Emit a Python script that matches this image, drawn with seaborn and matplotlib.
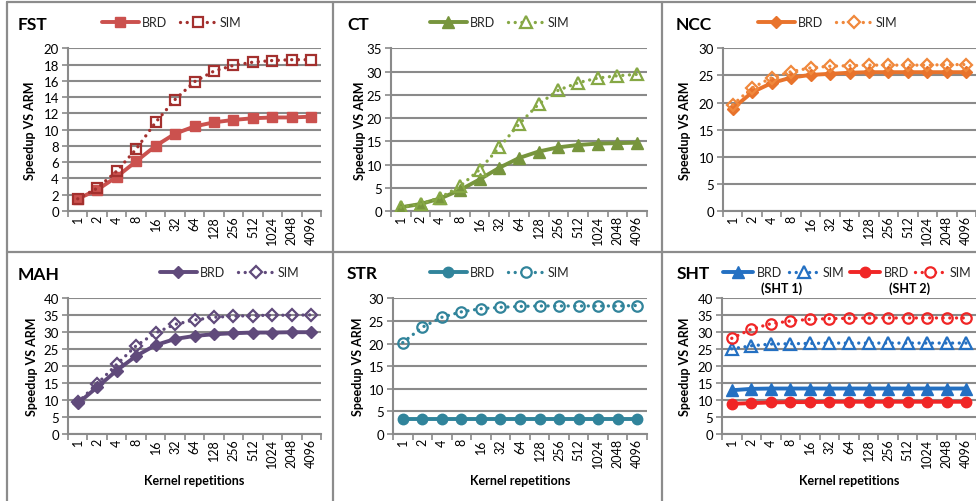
import numpy as np
import matplotlib
matplotlib.use("Agg")
import matplotlib.pyplot as plt
from matplotlib.lines import Line2D
import seaborn as sns

# ---- data -------------------------------------------------------------
reps = ["1", "2", "4", "8", "16", "32", "64", "128", "256", "512", "1024", "2048", "4096"]

fst_brd = [1.5, 2.6, 4.2, 6.1, 8.0, 9.5, 10.4, 10.9, 11.2, 11.4, 11.5, 11.5, 11.6]
fst_sim = [1.5, 2.8, 4.9, 7.6, 10.9, 13.7, 15.9, 17.2, 17.9, 18.3, 18.5, 18.6, 18.6]

ct_brd = [0.8, 1.5, 2.7, 4.5, 6.8, 9.3, 11.4, 12.8, 13.7, 14.2, 14.5, 14.6, 14.7]
ct_sim = [0.8, 1.5, 2.9, 5.3, 8.9, 13.7, 18.7, 23.0, 26.0, 27.6, 28.6, 29.1, 29.4]

ncc_brd = [18.9, 21.9, 23.6, 24.6, 25.1, 25.3, 25.5, 25.6, 25.6, 25.6, 25.6, 25.6, 25.6]
ncc_sim = [19.6, 22.7, 24.6, 25.7, 26.4, 26.7, 26.8, 26.9, 26.9, 26.9, 26.9, 27.0, 27.0]

mah_brd = [9.0, 13.8, 18.7, 23.0, 26.2, 28.0, 28.9, 29.4, 29.7, 29.9, 29.9, 30.0, 30.0]
mah_sim = [9.3, 14.8, 20.5, 26.0, 29.8, 32.3, 33.6, 34.4, 34.7, 34.9, 35.0, 35.0, 35.1]

str_brd = [3.4, 3.4, 3.4, 3.4, 3.4, 3.4, 3.4, 3.4, 3.4, 3.4, 3.4, 3.4, 3.4]
str_sim = [20.2, 23.6, 25.8, 27.0, 27.7, 28.0, 28.2, 28.3, 28.3, 28.3, 28.3, 28.3, 28.4]

sht1_brd = [12.9, 13.3, 13.4, 13.4, 13.4, 13.4, 13.4, 13.4, 13.4, 13.4, 13.4, 13.4, 13.4]
sht1_sim = [25.1, 26.0, 26.5, 26.6, 26.7, 26.8, 26.8, 26.8, 26.8, 26.8, 26.8, 26.8, 26.8]
sht2_brd = [8.9, 9.1, 9.3, 9.4, 9.4, 9.5, 9.5, 9.5, 9.5, 9.5, 9.5, 9.5, 9.5]
sht2_sim = [28.2, 30.9, 32.5, 33.3, 33.8, 34.0, 34.1, 34.2, 34.2, 34.2, 34.2, 34.2, 34.2]

# ---- style ------------------------------------------------------------
W, H = 976, 502
sns.set_theme(style="white")
plt.rcParams["font.family"] = ["Lato", "DejaVu Sans"]
GRID = "#8a8a8a"
TXT = "#000000"

fig = plt.figure(figsize=(W / 100, H / 100), dpi=100)
fig.patch.set_facecolor("white")


def box(l, t, r, b):
    return [l / W, 1 - b / H, (r - l) / W, (b - t) / H]


DOT = (0, (0.01, 2.0))

panels = [
    dict(title="FST", ax=(68, 49, 321, 212), ymax=20, step=2, tpos=(18, 25), leg=(172, 23), ylab_x=30,
         series=[("BRD", fst_brd, "#CB514E", "s", 7, True),
                 ("SIM", fst_sim, "#A3302E", "s", 7, False)], xlabel=False),
    dict(title="CT", ax=(391, 49, 647, 212), ymax=35, step=5, tpos=(347, 25), leg=(500, 23), ylab_x=360,
         series=[("BRD", ct_brd, "#77953D", "^", 8, True),
                 ("SIM", ct_sim, "#86A845", "^", 8, False)], xlabel=False),
    dict(title="NCC", ax=(723, 49, 976, 212), ymax=30, step=5, tpos=(676, 25), leg=(828, 23), ylab_x=685,
         series=[("BRD", ncc_brd, "#E8732C", "D", 6.5, True),
                 ("SIM", ncc_sim, "#F0883C", "D", 6.5, False)], xlabel=False),
    dict(title="MAH", ax=(68, 299, 321, 435), ymax=40, step=5, tpos=(18, 275), leg=(230, 273), ylab_x=32,
         series=[("BRD", mah_brd, "#604A7B", "D", 6.5, True),
                 ("SIM", mah_sim, "#604A7B", "D", 6.5, False)], xlabel=True),
    dict(title="STR", ax=(393, 299, 647, 435), ymax=30, step=5, tpos=(347, 274), leg=(500, 273), ylab_x=358,
         series=[("BRD", str_brd, "#31849B", "o", 7.5, True),
                 ("SIM", str_sim, "#31849B", "o", 7.5, False)], xlabel=True),
    dict(title="SHT", ax=(722, 299, 976, 435), ymax=40, step=5, tpos=(677, 274), leg=(847, 273), ylab_x=685,
         series=[("BRD", sht1_brd, "#2470C2", "^", 8, True),
                 ("SIM", sht1_sim, "#2470C2", "^", 8, False),
                 ("BRD", sht2_brd, "#F02626", "o", 7.5, True),
                 ("SIM", sht2_sim, "#F02626", "o", 7.5, False)], xlabel=True),
]

x = np.arange(len(reps))

for p in panels:
    l, t, r, b = p["ax"]
    ax = fig.add_axes(box(l, t, r, b))
    handles = []
    for lab, vals, col, mk, ms, solid in p["series"]:
        if solid:
            sns.lineplot(x=x, y=vals, ax=ax, color=col, linewidth=2.8, marker=mk,
                         markersize=ms, markerfacecolor=col, markeredgecolor=col,
                         markeredgewidth=1.0, zorder=3)
            h = Line2D([], [], color=col, lw=2.8, marker=mk, ms=ms, mfc=col, mec=col)
        else:
            sns.lineplot(x=x, y=vals, ax=ax, color=col, linewidth=2.4, linestyle=DOT,
                         dash_capstyle="round", marker=mk, markersize=ms,
                         markerfacecolor="none", markeredgecolor=col,
                         markeredgewidth=1.6, zorder=4)
            h = Line2D([], [], color=col, lw=2.4, linestyle=DOT, dash_capstyle="round",
                       marker=mk, ms=ms, mfc="white", mec=col, mew=1.6)
        handles.append((h, lab))

    ax.set_xlim(-0.5, len(reps) - 0.5)
    ax.set_ylim(0, p["ymax"] * 1.002)
    yt = np.arange(0, p["ymax"] + 0.1, p["step"])
    ax.set_yticks(yt)
    ax.set_yticklabels([str(int(v)) for v in yt])
    ax.set_xticks(np.arange(-0.5, len(reps), 1.0))
    ax.set_xticklabels([])
    ax.set_xticks(x, minor=True)
    ax.set_xticklabels(reps, minor=True, rotation=90)
    ax.tick_params(axis="x", which="major", length=4, width=1.2, color=GRID, direction="out", bottom=True)
    ax.tick_params(axis="x", which="minor", length=0, pad=3, labelsize=9, labelcolor=TXT)
    ax.tick_params(axis="y", length=4, width=1.2, color=GRID, direction="out", left=True,
                   pad=2.5, labelsize=9.5, labelcolor=TXT)
    ax.yaxis.grid(True, color=GRID, lw=1.5)
    ax.xaxis.grid(False)
    ax.set_axisbelow(True)
    for s in ("top", "right"):
        ax.spines[s].set_visible(False)
    for s in ("left", "bottom"):
        ax.spines[s].set_color(GRID)
        ax.spines[s].set_linewidth(1.5)
    ax.set_xlabel("")
    ax.set_ylabel("")
    if ax.get_legend() is not None:
        ax.get_legend().remove()

    fig.text(p["ylab_x"] / W, 1 - ((t + b) / 2) / H, "Speedup VS ARM", rotation=90,
             ha="center", va="center", fontsize=9, fontweight="bold", color=TXT)
    fig.text(p["tpos"][0] / W, 1 - p["tpos"][1] / H, p["title"], ha="left", va="center",
             fontsize=12.5, fontweight="bold", color=TXT)
    if p["xlabel"]:
        fig.text(((l + r) / 2) / W, 1 - 481 / H, "Kernel repetitions", ha="center", va="center",
                 fontsize=9, fontweight="bold", color=TXT)

    many = len(handles) > 2
    ax.legend([h for h, _ in handles], [lab for _, lab in handles],
              loc="center", bbox_to_anchor=(p["leg"][0] / W, 1 - p["leg"][1] / H),
              bbox_transform=fig.transFigure, ncol=len(handles), frameon=False,
              fontsize=9, handlelength=2.4 if many else 2.9, handletextpad=0.3,
              columnspacing=0.5 if many else 1.0, numpoints=1, borderpad=0, borderaxespad=0)

fig.text(782 / W, 1 - 289 / H, "(SHT 1)", ha="center", va="center", fontsize=9,
         fontweight="bold", color=TXT)
fig.text(910 / W, 1 - 289 / H, "(SHT 2)", ha="center", va="center", fontsize=9,
         fontweight="bold", color=TXT)

# panel frame lines
BORDER = "#8c8c8c"
for xs, ys in [((7, 7), (3, H)), ((333, 333), (3, H)), ((662, 662), (3, H)),
               ((7, W), (3, 3)), ((7, W), (253, 253))]:
    fig.add_artist(Line2D([xs[0] / W, xs[1] / W], [1 - ys[0] / H, 1 - ys[1] / H],
                          transform=fig.transFigure, color=BORDER, lw=1.6))

fig.savefig("out.png", dpi=100, facecolor="white")
